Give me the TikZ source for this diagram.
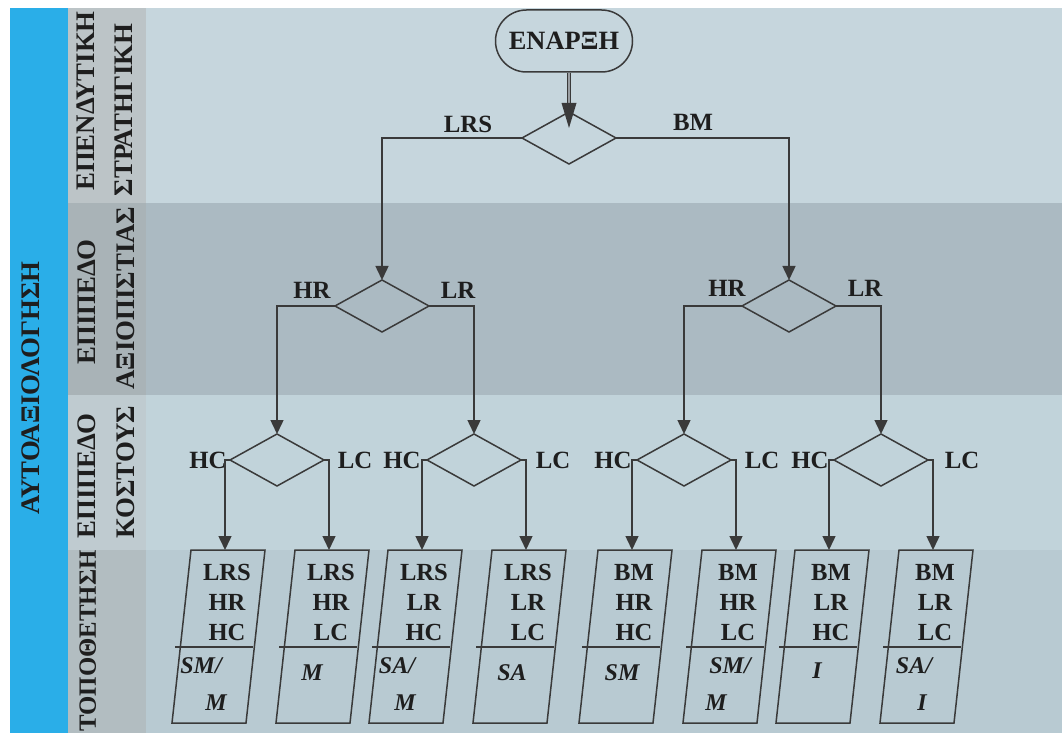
\documentclass[tikz,border=0pt]{standalone}
\usepackage{fontspec}
\setmainfont{Liberation Serif}
\usetikzlibrary{arrows.meta,shapes.geometric,calc}

\definecolor{bandblue}{HTML}{2AAEE8}
\definecolor{mainA}{HTML}{C6D6DD}
\definecolor{mainB}{HTML}{ABBAC2}
\definecolor{mainC}{HTML}{C1D3DA}
\definecolor{mainD}{HTML}{B8CAD2}
\definecolor{sideA}{HTML}{BCC4C7}
\definecolor{sideB}{HTML}{A9B3B7}
\definecolor{sideC}{HTML}{BFCBD0}
\definecolor{sideD}{HTML}{B2BDC1}
\definecolor{ink}{HTML}{1E1E1E}
\definecolor{linec}{HTML}{3A3A3A}
\definecolor{shaftc}{HTML}{9A9EA2}

% one outcome box: name, x of incoming arrow, three rows of text
\newcommand\outcome[5]{%
  \node[boxarea] (#1) at (#2,636.5) {};
  \draw[boxline] ($(#1.north)+(-34,0)$) -- ($(#1.north)+(40,0)$)
    -- ($(#1.south)+(21,0)$) -- ($(#1.south)+(-53,0)$) -- cycle;
  \node[boxtxt] (#1-r1) at ($(#1.north)+(2,22)$) {#3};
  \node[boxtxt] (#1-r2) at ($(#1.north)+(2,52)$) {#4};
  \node[boxtxt] (#1-r3) at ($(#1.north)+(2,82)$) {#5};
  \draw[boxline] ($(#1.north)+(-50,97)$) -- ($(#1.north)+(28,97)$);
}

\begin{document}
\begin{tikzpicture}[x=0.5pt,y=-0.5pt,
  lbl/.style={font=\fontsize{12.4pt}{14pt}\selectfont\bfseries, text=ink,
    inner sep=0pt, text height=8.2pt, text depth=0pt},
  boxtxt/.style={lbl, font=\fontsize{12.3pt}{14pt}\selectfont\bfseries},
  outtxt/.style={lbl, font=\fontsize{12pt}{14pt}\selectfont\bfseries\itshape},
  side/.style={rotate=90, font=\fontsize{13.4pt}{15pt}\selectfont\bfseries,
    text=ink, inner sep=0pt, text height=8.9pt, text depth=0pt},
  decision/.style={diamond, draw=linec, line width=0.75pt, minimum width=47pt,
    minimum height=26pt, inner sep=0pt, outer sep=0pt},
  arr/.style={draw=linec, line width=0.75pt, -{Triangle[length=7pt,width=6.5pt]}},
  boxline/.style={draw=linec, line width=0.75pt},
  boxarea/.style={inner sep=0pt, outer sep=0pt, minimum width=0pt, minimum height=86.5pt},
]
\useasboundingbox (0,0) rectangle (1062,733);

% background bands
\fill[white] (0,0) rectangle (1062,733);
\fill[mainA] (146,8) rectangle (1062,203);
\fill[mainB] (146,203) rectangle (1062,395);
\fill[mainC] (146,395) rectangle (1062,550);
\fill[mainD] (146,550) rectangle (1062,733);
\fill[sideA] (68,8) rectangle (146,203);
\fill[sideB] (68,203) rectangle (146,395);
\fill[sideC] (68,395) rectangle (146,550);
\fill[sideD] (68,550) rectangle (146,733);
\fill[bandblue] (10,8) rectangle (68,733);

% row titles
\node[side] (selfeval) at (31,388) {ΑΥΤΟΑΞΙΟΛΟΓΗΣΗ};
\node[side] (t1a) at (86,101) {ΕΠΕΝΔΥΤΙΚΗ};
\node[side] (t1b) at (124,110) {ΣΤΡΑΤΗΓΙΚΗ};
\node[side] (t2a) at (87,302) {ΕΠΙΠΕΔΟ};
\node[side] (t2b) at (126,298) {ΑΞΙΟΠΙΣΤΙΑΣ};
\node[side] (t3a) at (87,476) {ΕΠΙΠΕΔΟ};
\node[side] (t3b) at (126,472) {ΚΟΣΤΟΥΣ};
\node[side, font=\fontsize{12.4pt}{15pt}\selectfont\bfseries] (t4a) at (87,641) {ΤΟΠΟΘΕΤΗΣΗ};

% start and decisions
\node[draw=linec, line width=0.75pt, rounded corners=15.5pt, minimum width=68.5pt,
  minimum height=31pt, inner sep=0pt, text=ink, text height=8.6pt, text depth=0pt,
  font=\fontsize{13.2pt}{15pt}\selectfont\bfseries] (start) at (564,41) {ΕΝΑΡΞΗ};
\node[decision] (d1) at (569,138) {};
\node[decision] (d2L) at (382,306) {};
\node[decision] (d2R) at (789,306) {};
\node[decision] (d3a) at (277,460) {};
\node[decision] (d3b) at (474,460) {};
\node[decision] (d3c) at (684,460) {};
\node[decision] (d3d) at (881,460) {};

% outcome boxes
\outcome{b1}{225}{LRS}{HR}{HC}
\outcome{b2}{329}{LRS}{HR}{LC}
\outcome{b3}{422}{LRS}{LR}{HC}
\outcome{b4}{526}{LRS}{LR}{LC}
\outcome{b5}{632}{BM}{HR}{HC}
\outcome{b6}{736}{BM}{HR}{LC}
\outcome{b7}{829}{BM}{LR}{HC}
\outcome{b8}{933}{BM}{LR}{LC}

\node[outtxt] (b1-o1) at (201,665) {SM/};
\node[outtxt] (b1-o2) at (216,702) {M};
\node[outtxt] (b2-o1) at (312,672) {M};
\node[outtxt] (b3-o1) at (397,665) {SA/};
\node[outtxt] (b3-o2) at (405,702) {M};
\node[outtxt] (b4-o1) at (512,672) {SA};
\node[outtxt] (b5-o1) at (622,672) {SM};
\node[outtxt] (b6-o1) at (730,665) {SM/};
\node[outtxt] (b6-o2) at (716,702) {M};
\node[outtxt] (b7-o1) at (817,670) {I};
\node[outtxt] (b8-o1) at (914,665) {SA/};
\node[outtxt] (b8-o2) at (922,702) {I};

% branch labels
\node[lbl] (l-lrs) at (468,124) {LRS};
\node[lbl] (l-bm) at (693,122) {BM};
\node[lbl] (l-hr1) at (312,290) {HR};
\node[lbl] (l-lr1) at (458,290) {LR};
\node[lbl] (l-hr2) at (727,288) {HR};
\node[lbl] (l-lr2) at (865,288) {LR};
\node[lbl] (l-hc1) at (208,460) {HC};
\node[lbl] (l-lc1) at (355,460) {LC};
\node[lbl] (l-hc2) at (402,460) {HC};
\node[lbl] (l-lc2) at (553,460) {LC};
\node[lbl] (l-hc3) at (613,460) {HC};
\node[lbl] (l-lc3) at (762,460) {LC};
\node[lbl] (l-hc4) at (810,460) {HC};
\node[lbl] (l-lc4) at (962,460) {LC};

% start arrow: doubled shaft with a heavy head
\draw[draw=linec, line width=0.55pt, double=shaftc, double distance=1.1pt]
  (start.south -| d1.north) -- ($(d1.north)+(0,-8)$);
\fill[linec] ($(d1.north)+(-7.5,-9)$) -- ($(d1.north)+(7.5,-9)$) -- ($(d1.north)+(0,16)$) -- cycle;

% decision branches
\draw[arr] (d1.west) -| (d2L.north);
\draw[arr] (d1.east) -| (d2R.north);
\draw[arr] (d2L.west) -| (d3a.north);
\draw[arr] (d2L.east) -| (d3b.north);
\draw[arr] (d2R.west) -| (d3c.north);
\draw[arr] (d2R.east) -| (d3d.north);
\draw[arr] (d3a.west) -| (b1.north);
\draw[arr] (d3a.east) -| (b2.north);
\draw[arr] (d3b.west) -| (b3.north);
\draw[arr] (d3b.east) -| (b4.north);
\draw[arr] (d3c.west) -| (b5.north);
\draw[arr] (d3c.east) -| (b6.north);
\draw[arr] (d3d.west) -| (b7.north);
\draw[arr] (d3d.east) -| (b8.north);
\end{tikzpicture}
\end{document}
